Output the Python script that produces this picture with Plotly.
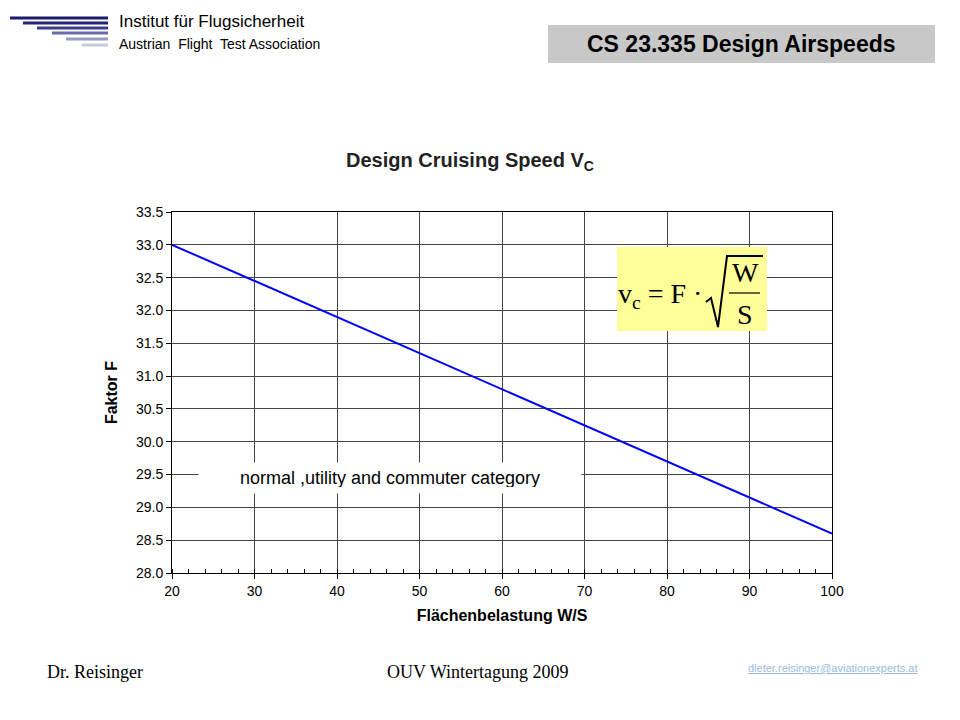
import plotly.graph_objects as go

ws = [20, 100]
factor = [33.0, 28.6]
x_ticks = [20, 30, 40, 50, 60, 70, 80, 90, 100]
y_ticks = [28.0, 28.5, 29.0, 29.5, 30.0, 30.5, 31.0, 31.5, 32.0, 32.5, 33.0, 33.5]

OFF = 8
W, H = 960 - 2 * OFF, 720 - 2 * OFF
L, R, T, B = 172, 832, 212, 573
def px(x): return (x - L) / (R - L)
def py(y): return (B - y) / (B - T)

fig = go.Figure()
fig.add_trace(go.Scatter(x=ws, y=factor, mode="lines", line=dict(color="#0000ff", width=2), showlegend=False))

ax = dict(showline=True, linecolor="black", linewidth=1, mirror=True, showgrid=True, gridcolor="#444",
          gridwidth=1, ticks="outside", tickcolor="black", zeroline=False,
          tickfont=dict(family="Arial, Liberation Sans", size=14, color="black"))
fig.update_xaxes(**ax, range=[20, 100], tickvals=x_ticks, ticklen=5,
                 minor=dict(dtick=2, ticks="inside", ticklen=4, tickcolor="black", showgrid=False),
                 title=dict(text="<b>Flächenbelastung W/S</b>", font=dict(family="Arial", size=16, color="black"), standoff=12))
fig.update_yaxes(**ax, range=[28.0, 33.5], tickvals=y_ticks, ticktext=[f"{v:.1f}" for v in y_ticks], ticklen=5,
                 title=dict(text="<b>Faktor F</b>", font=dict(family="Arial", size=16, color="black"), standoff=14))

shapes = []
logo = [(10, 18, "#1a1a6e"), (23, 23, "#23237a"), (37, 28, "#3a3a8a"), (52, 33, "#6a6aa8"), (66, 39, "#9a9ac4"), (82, 45, "#c8c8dc")]
for x0, y0, c in logo:
    shapes.append(dict(type="line", xref="paper", yref="paper", x0=px(x0), x1=px(108), y0=py(y0), y1=py(y0),
                       line=dict(color=c, width=3)))
shapes.append(dict(type="rect", xref="paper", yref="paper", x0=px(548), x1=px(935), y0=py(63), y1=py(25),
                   fillcolor="#c8c8c8", line=dict(width=0)))
shapes.append(dict(type="rect", xref="paper", yref="paper", x0=px(617), x1=px(767), y0=py(331), y1=py(247),
                   fillcolor="#ffff99", line=dict(width=0), layer="above"))
shapes.append(dict(type="path", xref="paper", yref="paper",
                   path=f"M {px(706)},{py(302)} L {px(711)},{py(298)} L {px(718)},{py(327)} L {px(727)},{py(256)} L {px(763)},{py(256)}",
                   line=dict(color="black", width=2), layer="above"))
shapes.append(dict(type="line", xref="paper", yref="paper", x0=px(729), x1=px(760), y0=py(293), y1=py(293),
                   line=dict(color="black", width=1.2), layer="above"))

def A(x, y, text, font, xa="center", **kw):
    d = dict(x=px(x), y=py(y), text=text, font=font, xanchor=xa, yanchor="middle",
             xref="paper", yref="paper", showarrow=False)
    d.update(kw)
    return d

ann = [
    A(117, 22, "Institut für Flugsicherheit", dict(family="Arial", size=17, color="black"), "left"),
    A(117, 44, "Austrian  Flight  Test Association", dict(family="Arial", size=14, color="black"), "left"),
    A(741, 44, "<b>CS 23.335 Design Airspeeds</b>", dict(family="Arial", size=23, color="black")),
    A(470, 161, "<b>Design Cruising Speed V<sub>C</sub></b>", dict(family="Arial", size=20, color="#222")),
    A(390, 478, "normal ,utility and commuter category", dict(family="Arial", size=18, color="black"),
      bgcolor="white", borderpad=6, width=370, height=18),
    A(660, 295, "v<sub>c</sub> = F ·", dict(family="Liberation Serif", size=28, color="black")),
    A(745, 272, "W", dict(family="Liberation Serif", size=28, color="black")),
    A(745, 314, "S", dict(family="Liberation Serif", size=28, color="black")),
    A(45, 672, "Dr. Reisinger", dict(family="Liberation Serif", size=18, color="black"), "left"),
    A(385, 672, "OUV Wintertagung 2009", dict(family="Liberation Serif", size=18, color="black"), "left"),
    A(920, 668, "<u>dieter.reisinger@aviationexperts.at</u>", dict(family="Arial", size=11, color="#9bbbe0"), "right"),
]

fig.update_layout(width=W, height=H,
                  margin=dict(l=L - OFF, r=W - (R - OFF), t=T - OFF, b=H - (B - OFF), autoexpand=False),
                  paper_bgcolor="white", plot_bgcolor="white", shapes=shapes, annotations=ann, showlegend=False)
fig.write_html("out.html")
